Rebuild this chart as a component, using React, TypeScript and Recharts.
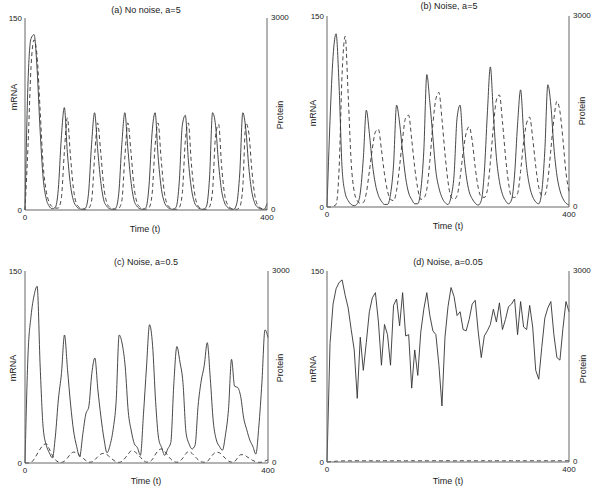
import React from "react";
import { LineChart, Line, XAxis, YAxis } from "recharts";

// all series sampled every 5 time units, t = 0..400
const STEP = 5;
const TIME = Array.from({ length: 81 }, (_, i) => i * STEP);

const TIME_TICKS = [0, 400];
const MRNA_TICKS = [0, 150];
const PROTEIN_TICKS = [0, 3000];

// (a) No noise, a=5
const A_MRNA = [
  0, 100, 134, 137, 110, 62, 25, 9, 3, 1,
  2, 16, 56, 80, 45, 20, 7.5, 2.8, 1, 0.5,
  1.5, 13, 51, 76, 48, 23, 8, 3, 1, 0.5,
  1.5, 13, 51, 76, 48, 23, 8, 3, 1, 0.5,
  2, 19, 60, 76, 42, 18, 6.5, 2.5, 1, 0.5,
  2.5, 22, 66, 74, 39, 17, 6, 2.3, 0.8, 0.5,
  3, 25, 76, 66, 36, 15, 5.5, 2, 0.7, 0.5,
  5, 29, 76, 63, 33, 14, 5, 2, 0.7, 0.5,
  5,
];
const A_PROTEIN = [
  0, 1000, 2240, 2660, 2400, 1560, 700, 300, 120, 50,
  30, 30, 180, 900, 1440, 860, 340, 100, 40, 16,
  10, 26, 140, 820, 1360, 920, 380, 120, 44, 18,
  10, 26, 140, 820, 1360, 920, 380, 120, 44, 18,
  12, 36, 240, 1000, 1360, 800, 300, 90, 36, 16,
  10, 40, 260, 1080, 1360, 720, 280, 80, 30, 14,
  10, 50, 300, 1160, 1340, 680, 240, 80, 30, 14,
  10, 50, 360, 1360, 1200, 620, 220, 70, 28, 12,
  10,
];

// (b) Noise, a=5
const B_MRNA = [
  0, 68, 118, 136, 95, 30, 11, 5, 2, 1,
  2.5, 11, 38, 76, 58, 34, 18, 9, 4.5, 2,
  2, 10, 33, 80, 66, 43, 23, 11, 6, 2.5,
  2.6, 13, 44, 104, 82, 55, 28, 15, 7.5, 3.5,
  2, 8, 25, 70, 80, 47, 25, 12, 6.5, 3,
  1.5, 5, 27, 73, 110, 73, 39, 20, 10, 5,
  2.5, 5.5, 25, 65, 92, 58, 31, 16, 8, 4,
  2.5, 12, 44, 96, 80, 47, 25, 13, 6.5, 3,
  1.5,
];
const B_PROTEIN = [
  0, 0, 10, 40, 600, 2100, 2680, 1760, 700, 240,
  100, 60, 70, 220, 560, 920, 1180, 1220, 900, 520,
  250, 120, 100, 260, 640, 1080, 1400, 1440, 1060, 620,
  290, 120, 140, 280, 720, 1300, 1700, 1800, 1380, 840,
  400, 160, 120, 180, 460, 860, 1160, 1260, 1040, 620,
  300, 160, 150, 260, 700, 1260, 1680, 1760, 1340, 800,
  380, 160, 150, 210, 560, 1020, 1320, 1410, 1080, 640,
  310, 180, 190, 420, 900, 1380, 1660, 1500, 1060, 540,
  240,
];

// (c) Noise, a=0.5
const C_MRNA = [
  0, 85, 115, 131, 138, 75, 27, 14, 8, 4,
  21, 50, 70, 100, 73, 46, 25, 13, 5, 22,
  38, 44, 70, 82, 57, 36, 19, 8, 14, 26,
  48, 100, 93, 75, 40, 25, 15, 12, 6, 38,
  75, 108, 92, 48, 19, 12, 6, 11, 16, 62,
  91, 79, 63, 24, 15, 11, 14, 45, 64, 76,
  94, 66, 32, 18, 13, 10, 22, 42, 81, 60,
  59, 52, 35, 26, 18, 13, 7, 29, 63, 104,
  98,
];
const C_PROTEIN = [
  0, 0, 10, 60, 140, 220, 280, 300, 220, 120,
  50, 16, 10, 30, 80, 140, 170, 160, 120, 80,
  40, 12, 16, 50, 100, 140, 150, 130, 90, 50,
  20, 10, 30, 80, 140, 190, 180, 140, 90, 40,
  14, 20, 60, 140, 200, 220, 180, 120, 60, 24,
  12, 30, 80, 150, 180, 150, 100, 50, 20, 12,
  24, 80, 140, 170, 160, 120, 70, 30, 14, 24,
  80, 130, 130, 100, 70, 40, 20, 10, 14, 30,
  50,
];

// (d) Noise, a=0.05
const D_MRNA = [
  0, 93, 124, 136, 141, 143, 131, 121, 104, 88,
  50, 98, 72, 94, 118, 129, 133, 110, 76, 108,
  100, 76, 123, 128, 107, 133, 99, 100, 58, 88,
  68, 102, 120, 133, 115, 103, 100, 76, 44, 98,
  122, 137, 130, 115, 118, 104, 103, 112, 124, 127,
  102, 82, 99, 103, 108, 120, 110, 125, 104, 112,
  122, 124, 128, 100, 126, 106, 104, 123, 106, 72,
  65, 90, 113, 121, 126, 100, 82, 80, 105, 126,
  118,
];
const D_PROTEIN = [
  0, 4, 8, 12, 15, 17, 18, 19, 18, 19,
  20, 19, 18, 19, 20, 19, 18, 18, 19, 20,
  19, 18, 19, 20, 19, 18, 19, 19, 20, 19,
  18, 19, 20, 19, 18, 19, 20, 19, 18, 19,
  20, 19, 18, 19, 20, 19, 18, 19, 20, 19,
  18, 19, 20, 19, 18, 19, 20, 19, 18, 19,
  20, 19, 18, 19, 20, 19, 18, 19, 20, 19,
  18, 19, 20, 19, 18, 19, 20, 19, 18, 19,
  20,
];

const INK = "#333";
const AXIS = "#666";
const tickStyle = { fontSize: 8, fill: "#222" };
const rightTickStyle = { fontSize: 8, fill: "#222", dy: -1 };

type Margin = { top: number; right: number; bottom: number; left: number };
type Pos = [number, number];

type PanelProps = {
  title: string;
  mrna: number[];
  protein: number[];
  curve: "monotone" | "linear";
  x: number;
  y: number;
  margin: Margin;
  titleAt: Pos;
  timeAt: Pos;
  mrnaAt: Pos;
  proteinAt: Pos;
};

function Panel(props: PanelProps) {
  const { title, mrna, protein, curve, x, y, margin, titleAt, timeAt, mrnaAt, proteinAt } = props;
  const rows = TIME.map((t, i) => ({ t, mrna: mrna[i], protein: protein[i] }));

  return (
    <div style={{ position: "absolute", left: x, top: y, width: 300, height: 244 }}>
      <LineChart width={300} height={244} data={rows} margin={margin}>
        {/* top edge of the frame */}
        <XAxis
          xAxisId="top"
          orientation="top"
          dataKey="t"
          type="number"
          domain={[0, 400]}
          height={0}
          tick={false}
          tickLine={false}
          axisLine={{ stroke: AXIS }}
        />
        <XAxis
          dataKey="t"
          type="number"
          domain={[0, 400]}
          ticks={TIME_TICKS}
          height={20}
          tickLine={false}
          tickSize={0}
          tickMargin={4}
          tick={tickStyle}
          axisLine={{ stroke: AXIS }}
        />
        <YAxis
          yAxisId="m"
          domain={[0, 150]}
          ticks={MRNA_TICKS}
          width={20}
          tickLine={false}
          tickSize={0}
          tickMargin={3}
          tick={tickStyle}
          axisLine={{ stroke: AXIS }}
        />
        <YAxis
          yAxisId="p"
          orientation="right"
          domain={[0, 3000]}
          ticks={PROTEIN_TICKS}
          width={30}
          tickLine={false}
          tickSize={0}
          tickMargin={4}
          tick={rightTickStyle}
          axisLine={{ stroke: AXIS }}
        />
        <Line
          yAxisId="m"
          dataKey="mrna"
          type={curve}
          stroke={INK}
          strokeWidth={0.9}
          dot={false}
          activeDot={false}
          isAnimationActive={false}
        />
        <Line
          yAxisId="p"
          dataKey="protein"
          type={curve}
          stroke={INK}
          strokeWidth={0.9}
          strokeDasharray="4 3"
          dot={false}
          activeDot={false}
          isAnimationActive={false}
        />
      </LineChart>

      {/* titles and axis names */}
      <svg
        width={300}
        height={244}
        style={{ position: "absolute", left: 0, top: 0, pointerEvents: "none" }}
        fontSize={9}
        fill="#222"
      >
        <text x={titleAt[0]} y={titleAt[1]} textAnchor="middle" dominantBaseline="central">
          {title}
        </text>
        <text x={timeAt[0]} y={timeAt[1]} textAnchor="middle" dominantBaseline="central">
          Time (t)
        </text>
        <text
          x={mrnaAt[0]}
          y={mrnaAt[1]}
          textAnchor="middle"
          dominantBaseline="central"
          transform={`rotate(-90 ${mrnaAt[0]} ${mrnaAt[1]})`}
        >
          mRNA
        </text>
        <text
          x={proteinAt[0]}
          y={proteinAt[1]}
          textAnchor="middle"
          dominantBaseline="central"
          transform={`rotate(-90 ${proteinAt[0]} ${proteinAt[1]})`}
        >
          Protein
        </text>
      </svg>
    </div>
  );
}

export default function App() {
  return (
    <div
      style={{
        position: "absolute",
        left: 0,
        top: 0,
        width: 600,
        height: 488,
        background: "#fff",
        fontFamily: "'Liberation Sans', Arial, sans-serif",
      }}
    >
      <Panel
        title="(a) No noise, a=5"
        mrna={A_MRNA}
        protein={A_PROTEIN}
        curve="monotone"
        x={0}
        y={0}
        margin={{ top: 18, right: 3, bottom: 14, left: 5 }}
        titleAt={[146, 10]}
        timeAt={[145, 229]}
        mrnaAt={[14, 97]}
        proteinAt={[280, 115]}
      />
      <Panel
        title="(b) Noise, a=5"
        mrna={B_MRNA}
        protein={B_PROTEIN}
        curve="monotone"
        x={300}
        y={0}
        margin={{ top: 16, right: 1, bottom: 17, left: 7 }}
        titleAt={[149, 6]}
        timeAt={[148, 226]}
        mrnaAt={[13, 113]}
        proteinAt={[282, 111]}
      />
      <Panel
        title="(c) Noise, a=0.5"
        mrna={C_MRNA}
        protein={C_PROTEIN}
        curve="monotone"
        x={0}
        y={244}
        margin={{ top: 27, right: 2, bottom: 5, left: 5 }}
        titleAt={[146, 18]}
        timeAt={[146, 237]}
        mrnaAt={[13, 124]}
        proteinAt={[280, 124]}
      />
      <Panel
        title="(d) Noise, a=0.05"
        mrna={D_MRNA}
        protein={D_PROTEIN}
        curve="linear"
        x={300}
        y={244}
        margin={{ top: 27, right: 1, bottom: 6, left: 7 }}
        titleAt={[148, 18]}
        timeAt={[148, 237]}
        mrnaAt={[13, 125]}
        proteinAt={[283, 125]}
      />
    </div>
  );
}
